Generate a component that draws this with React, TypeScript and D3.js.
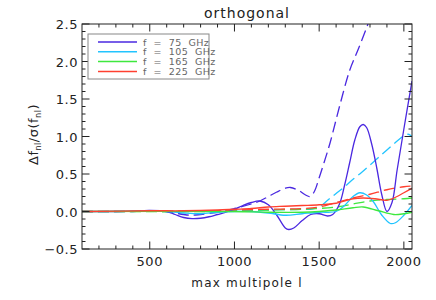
import React from "react";
import * as d3 from "d3";

// multipole l vs delta f_nl / sigma(f_nl)
const ghz75Solid: [number, number][] = [
  [100, 0], [300, 0], [400, 0.005], [500, 0.015], [600, 0.0], [650, -0.04], [700, -0.08],
  [750, -0.095], [800, -0.09], [850, -0.07], [900, -0.04], [950, -0.01], [1000, 0.03],
  [1050, 0.08], [1100, 0.12], [1150, 0.14], [1200, 0.09], [1250, -0.05], [1300, -0.22],
  [1320, -0.24], [1350, -0.22], [1400, -0.12], [1450, -0.04], [1500, -0.03], [1550, -0.06],
  [1580, -0.04], [1620, 0.1], [1650, 0.35], [1680, 0.65], [1710, 0.95], [1740, 1.13],
  [1760, 1.16], [1780, 1.12], [1810, 0.9], [1840, 0.58], [1870, 0.22], [1900, 0.0],
  [1930, 0.12], [1960, 0.55], [2000, 1.1], [2048, 1.74],
];
const ghz75Dashed: [number, number][] = [
  [100, 0], [400, 0], [500, 0.01], [600, 0], [700, -0.04], [750, -0.05], [800, -0.04],
  [900, -0.01], [1000, 0.04], [1100, 0.1], [1150, 0.14], [1200, 0.2], [1250, 0.26],
  [1300, 0.31], [1330, 0.32], [1380, 0.28], [1420, 0.22], [1445, 0.2], [1470, 0.26],
  [1500, 0.45], [1530, 0.66], [1565, 0.92], [1620, 1.4], [1680, 1.88], [1730, 2.16],
  [1780, 2.45], [1800, 2.58],
];
const ghz105Solid: [number, number][] = [
  [100, 0], [600, 0], [700, -0.02], [800, -0.03], [900, -0.01], [1000, 0], [1100, 0],
  [1200, -0.02], [1300, -0.05], [1400, -0.03], [1500, -0.01], [1600, 0.0], [1650, 0.08],
  [1700, 0.2], [1740, 0.25], [1780, 0.22], [1820, 0.13], [1870, -0.05], [1920, -0.16],
  [1950, -0.15], [2000, -0.05], [2048, 0.08],
];
const ghz105Dashed: [number, number][] = [
  [100, 0], [1000, 0.01], [1200, 0.02], [1400, 0.03], [1450, 0.03], [1500, 0.06],
  [1550, 0.15], [1600, 0.24], [1650, 0.33], [1700, 0.43], [1750, 0.52], [1800, 0.62],
  [1850, 0.72], [1900, 0.82], [1950, 0.92], [2000, 1.01], [2025, 1.03], [2048, 1.0],
];
const ghz165Solid: [number, number][] = [
  [100, 0], [1000, 0], [1200, -0.01], [1400, -0.01], [1500, 0], [1600, 0.02], [1700, 0.05],
  [1760, 0.06], [1850, 0.01], [1940, -0.04], [2000, -0.03], [2048, -0.01],
];
const ghz165Dashed: [number, number][] = [
  [100, 0], [900, 0], [1000, 0.01], [1200, 0.02], [1400, 0.03], [1600, 0.06], [1700, 0.1],
  [1800, 0.14], [1900, 0.16], [2000, 0.17], [2048, 0.18],
];
const ghz225Solid: [number, number][] = [
  [100, 0], [500, 0.01], [700, 0.01], [900, 0.02], [1000, 0.03], [1100, 0.04], [1200, 0.06],
  [1300, 0.07], [1400, 0.08], [1500, 0.09], [1600, 0.11], [1700, 0.17], [1760, 0.18],
  [1830, 0.17], [1900, 0.15], [1960, 0.2], [2000, 0.25], [2048, 0.31],
];
const ghz225Dashed: [number, number][] = [
  [100, 0], [900, 0.01], [1000, 0.02], [1200, 0.03], [1400, 0.04], [1500, 0.06], [1600, 0.12],
  [1700, 0.18], [1800, 0.23], [1900, 0.29], [2000, 0.33], [2048, 0.34],
];

const legendLabels = ["f = 75 GHz", "f = 105 GHz", "f = 165 GHz", "f = 225 GHz"];
const xTicks = [500, 1000, 1500, 2000];
const yTicks = [-0.5, 0, 0.5, 1, 1.5, 2, 2.5];

const colors = ["#4a28e0", "#22c4ff", "#3ee83e", "#ff4030"];

const W = 436, H = 300;
const m = {left: 82, right: 24, top: 24, bottom: 51};

export default function App() {
  const x = d3.scaleLinear().domain([100, 2048]).range([m.left, W - m.right]);
  const y = d3.scaleLinear().domain([-0.5, 2.5]).range([H - m.bottom, m.top]);
  const line = d3.line<[number, number]>()
    .x(d => x(d[0]))
    .y(d => y(d[1]))
    .curve(d3.curveCatmullRom.alpha(0.5));

  const series = [
    {data: ghz75Dashed, c: 0, dash: true},
    {data: ghz105Dashed, c: 1, dash: true},
    {data: ghz165Dashed, c: 2, dash: true},
    {data: ghz225Dashed, c: 3, dash: true},
    {data: ghz75Solid, c: 0, dash: false},
    {data: ghz105Solid, c: 1, dash: false},
    {data: ghz165Solid, c: 2, dash: false},
    {data: ghz225Solid, c: 3, dash: false},
  ];

  const [x0, x1] = x.range();
  const [y0, y1] = y.range();
  const xMinor = d3.range(200, 2048, 100).filter(v => v % 500 !== 0);
  const yMinor = d3.range(-4, 25).map(v => v / 10).filter(v => Math.round(v * 10) % 5 !== 0);
  const font = "DejaVu Sans, sans-serif";
  const ink = "#222";

  return (
    <svg width={W} height={H} style={{position: "absolute", left: 0, top: 0, background: "#fff"}}>
      <defs>
        <clipPath id="plot">
          <rect x={x0} y={y1} width={x1 - x0} height={y0 - y1}/>
        </clipPath>
      </defs>

      <g clipPath="url(#plot)">
        {series.map((s, i) => (
          <path key={i} d={line(s.data) ?? ""} fill="none" stroke={colors[s.c]}
                strokeWidth={1.3} strokeDasharray={s.dash ? "11,5" : undefined}/>
        ))}
      </g>

      {/* frame + ticks on all sides */}
      <rect x={x0} y={y1} width={x1 - x0} height={y0 - y1} fill="none" stroke={ink} strokeWidth={1}/>
      {xTicks.map(t => (
        <g key={"xt" + t}>
          <line x1={x(t)} x2={x(t)} y1={y0} y2={y0 - 7.5} stroke={ink}/>
          <line x1={x(t)} x2={x(t)} y1={y1} y2={y1 + 7.5} stroke={ink}/>
          <text x={x(t)} y={y0 + 17} textAnchor="middle" fontFamily={font} fontSize={13}
                letterSpacing={0.5} fill={ink}>{t}</text>
        </g>
      ))}
      {xMinor.map(t => (
        <g key={"xm" + t}>
          <line x1={x(t)} x2={x(t)} y1={y0} y2={y0 - 3.5} stroke={ink}/>
          <line x1={x(t)} x2={x(t)} y1={y1} y2={y1 + 3.5} stroke={ink}/>
        </g>
      ))}
      {yTicks.map(t => (
        <g key={"yt" + t}>
          <line x1={x0} x2={x0 + 7.5} y1={y(t)} y2={y(t)} stroke={ink}/>
          <line x1={x1} x2={x1 - 7.5} y1={y(t)} y2={y(t)} stroke={ink}/>
          <text x={x0 - 4} y={y(t) + 5} textAnchor="end" fontFamily={font} fontSize={13}
                letterSpacing={0.5} fill={ink}>{t < 0 ? "\u2212" + d3.format(".1f")(-t) : d3.format(".1f")(t)}</text>
        </g>
      ))}
      {yMinor.map(t => (
        <g key={"ym" + t}>
          <line x1={x0} x2={x0 + 3.5} y1={y(t)} y2={y(t)} stroke={ink}/>
          <line x1={x1} x2={x1 - 3.5} y1={y(t)} y2={y(t)} stroke={ink}/>
        </g>
      ))}

      {/* titles */}
      <text x={(x0 + x1) / 2} y={18} textAnchor="middle" fontFamily={font} fontSize={14}
            letterSpacing={1} fill={ink}>orthogonal</text>
      <text x={(x0 + x1) / 2} y={287} textAnchor="middle" fontFamily={font} fontSize={12}
            letterSpacing={1.2} fill={ink}>max multipole l</text>
      <text transform={`translate(38,${(y0 + y1) / 2 - 2}) rotate(-90)`} textAnchor="middle"
            fontFamily={font} fontSize={13} letterSpacing={0.5} fill={ink}>
        Δf<tspan fontSize={8} dy={3}>nl</tspan><tspan dy={-3}>/σ(f</tspan>
        <tspan fontSize={8} dy={3}>nl</tspan><tspan dy={-3}>)</tspan>
      </text>

      {/* legend */}
      <rect x={88} y={34} width={121} height={45} fill="#fff" stroke="#888" strokeWidth={1}/>
      {legendLabels.map((lab, i) => (
        <g key={lab} transform={`translate(0,${42 + i * 9.8})`}>
          <line x1={98} x2={137} y1={0} y2={0} stroke={colors[i]} strokeWidth={1.5}/>
          <text x={143} y={3.5} fontFamily={font} fontSize={9.5} fill="#666" letterSpacing={0.4}
                style={{whiteSpace: "pre"}}>{lab.replace(/ /g, "  ")}</text>
        </g>
      ))}
    </svg>
  );
}
